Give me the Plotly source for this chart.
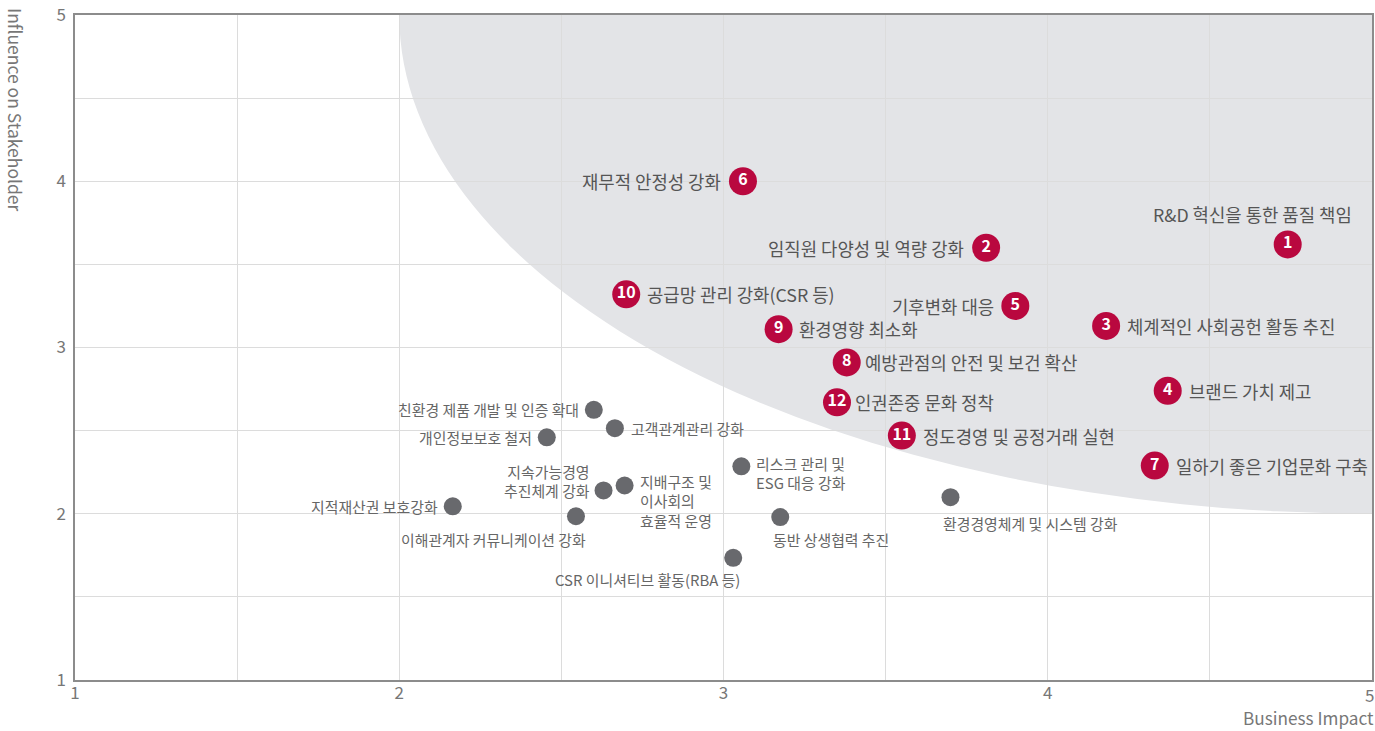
import plotly.graph_objects as go

# ---- data ----
key_nums = ["1", "2", "3", "4", "5", "6", "7", "8", "9", "10", "11", "12"]
key_names = [
    "R&D 혁신을 통한 품질 책임",
    "임직원 다양성 및 역량 강화",
    "체계적인 사회공헌 활동 추진",
    "브랜드 가치 제고",
    "기후변화 대응",
    "재무적 안정성 강화",
    "일하기 좋은 기업문화 구축",
    "예방관점의 안전 및 보건 확산",
    "환경영향 최소화",
    "공급망 관리 강화(CSR 등)",
    "정도경영 및 공정거래 실현",
    "인권존중 문화 정착",
]
key_x = [4.74, 3.81, 4.18, 4.37, 3.90, 3.06, 4.33, 3.38, 3.17, 2.70, 3.55, 3.35]
key_y = [3.62, 3.60, 3.13, 2.74, 3.25, 4.00, 2.29, 2.91, 3.11, 3.32, 2.47, 2.67]

other_names = [
    "친환경 제품 개발 및 인증 확대",
    "고객관계관리 강화",
    "개인정보보호 철저",
    "지속가능경영<br>추진체계 강화",
    "지배구조 및<br>이사회의<br>효율적 운영",
    "리스크 관리 및<br>ESG 대응 강화",
    "지적재산권 보호강화",
    "이해관계자 커뮤니케이션 강화",
    "동반 상생협력 추진",
    "CSR 이니셔티브 활동(RBA 등)",
    "환경경영체계 및 시스템 강화",
]
other_x = [2.60, 2.665, 2.455, 2.63, 2.695, 3.055, 2.165, 2.545, 3.175, 3.03, 3.70]
other_y = [2.625, 2.515, 2.46, 2.14, 2.17, 2.285, 2.045, 1.985, 1.98, 1.735, 2.10]

x_ticks = [1, 2, 3, 4]
x_last_tick = 5
y_ticks = [1, 2, 3, 4, 5]

# ---- label placement (style) ----
# (xanchor, xshift, yshift)
key_place = [
    ("right", 66, 30), ("right", -20, 0), ("left", 19, 0), ("left", 19, 0),
    ("right", -19, 0), ("right", -20, 0), ("left", 19, 0), ("left", 16, 0),
    ("left", 18, 0), ("left", 19, 0), ("left", 19, 0), ("left", 16, 0),
]
# (xanchor, xshift, yshift, align)
other_place = [
    ("right", -13, 0, "right"), ("left", 14, 0, "left"), ("right", -13, 0, "right"),
    ("right", -12, 9, "right"), ("left", 13, -16, "left"), ("left", 13, -7, "left"),
    ("right", -13, 0, "right"), ("right", 12, -23, "right"), ("left", -9, -22, "left"),
    ("right", 9, -22, "right"), ("left", -9, -26, "left"),
]

FONT = "Noto Sans CJK KR, Noto Sans, sans-serif"
RED = "#b9083f"
DOT = "#68696d"
TICKFONT = dict(family=FONT, size=17, color="#777777")

fig = go.Figure()

# shaded high-materiality region (quarter ellipse)
fig.add_shape(type="circle", xref="x", yref="y", x0=2, x1=8, y0=2, y1=8,
              fillcolor="#e3e4e7", line=dict(width=0), layer="below")

fig.add_trace(go.Scatter(
    x=other_x, y=other_y, mode="markers",
    marker=dict(size=18, color=DOT, line=dict(width=0)),
    hoverinfo="skip", showlegend=False,
))

fig.add_trace(go.Scatter(
    x=key_x, y=key_y, mode="markers+text", text=key_nums,
    textposition="middle center",
    textfont=dict(family=FONT, size=16, color="white", weight="bold"),
    marker=dict(size=28, color=RED, line=dict(width=0)),
    hoverinfo="skip", showlegend=False,
))

annotations = []
for name, x, y, (xa, xs, ys) in zip(key_names, key_x, key_y, key_place):
    annotations.append(dict(
        x=x, y=y, xref="x", yref="y", text=name, showarrow=False,
        xanchor=xa, yanchor="middle", xshift=xs, yshift=ys,
        font=dict(family=FONT, size=17.8, color="#555555"),
    ))
for name, x, y, (xa, xs, ys, al) in zip(other_names, other_x, other_y, other_place):
    annotations.append(dict(
        x=x, y=y, xref="x", yref="y", text=name, showarrow=False,
        xanchor=xa, yanchor="middle", xshift=xs, yshift=ys, align=al,
        font=dict(family=FONT, size=14.9, color="#666666"),
    ))

# last x tick label (right-aligned at the plot edge)
annotations.append(dict(
    x=x_last_tick, y=0, xref="x", yref="paper", text=str(x_last_tick),
    showarrow=False, xanchor="right", yanchor="middle", xshift=4, yshift=-14,
    font=TICKFONT,
))
annotations.append(dict(
    x=1, y=0, xref="paper", yref="paper", yshift=-37, xshift=4,
    text="Business Impact", showarrow=False, xanchor="right", yanchor="middle",
    font=dict(family=FONT, size=17.2, color="#777777"),
))
annotations.append(dict(
    x=0, y=1, xref="paper", yref="paper", xshift=-59, yshift=9,
    text="Influence on Stakeholder", showarrow=False, textangle=90,
    xanchor="center", yanchor="top",
    font=dict(family=FONT, size=17.5, color="#777777"),
))

axis_common = dict(
    showgrid=True, gridcolor="#dcdcdc", gridwidth=1,
    minor=dict(dtick=0.5, showgrid=True, gridcolor="#dcdcdc", gridwidth=1),
    showline=True, linecolor="#8c8c8c", linewidth=1.5, mirror=True,
    zeroline=False, ticks="", automargin=False,
    tickfont=TICKFONT,
)

fig.update_layout(
    width=1375, height=731,
    margin=dict(l=75, r=3, t=15, b=51),
    paper_bgcolor="white", plot_bgcolor="white",
    xaxis=dict(range=[1, 5], tickvals=x_ticks, ticklabelstandoff=-3, **axis_common),
    yaxis=dict(range=[1, 5], tickvals=y_ticks, ticklabelstandoff=4, **axis_common),
    annotations=annotations,
    showlegend=False,
)

fig.write_html(
    "out.html",
    config={"displayModeBar": False},
    post_script="document.body.style.margin='0';document.body.style.overflow='hidden';",
)
